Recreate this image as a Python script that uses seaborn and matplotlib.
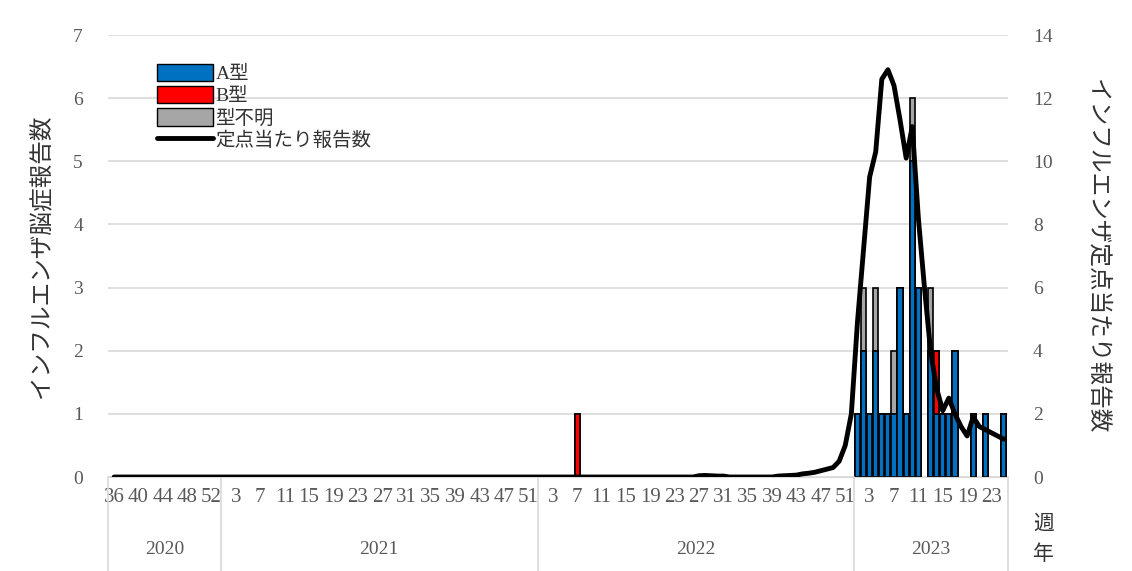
import numpy as np
import pandas as pd
import matplotlib
matplotlib.use("Agg")
import matplotlib.pyplot as plt
import seaborn as sns
from matplotlib.lines import Line2D
from matplotlib.patches import Patch

# weeks shown per year
years = [2020, 2021, 2022, 2023]
first_week = [36, 1, 1, 1]
last_week = [53, 52, 52, 25]

# encephalopathy reports (only weeks with cases)
a_type = {(2023, 1): 1, (2023, 2): 2, (2023, 3): 1, (2023, 4): 2, (2023, 5): 1,
          (2023, 6): 1, (2023, 7): 1, (2023, 8): 3, (2023, 9): 1, (2023, 10): 5,
          (2023, 11): 3, (2023, 13): 2, (2023, 14): 1, (2023, 15): 1, (2023, 16): 1,
          (2023, 17): 2, (2023, 20): 1, (2023, 22): 1, (2023, 25): 1}
b_type = {(2022, 7): 1, (2023, 14): 1}
unknown_type = {(2023, 2): 1, (2023, 4): 1, (2023, 7): 1, (2023, 10): 1, (2023, 13): 1}

# reports per sentinel (right axis)
sentinel_2022 = {27: 0.04, 28: 0.05, 29: 0.04, 30: 0.03, 31: 0.03, 40: 0.03, 41: 0.04,
                 42: 0.05, 43: 0.06, 44: 0.1, 45: 0.12, 46: 0.15, 47: 0.2, 48: 0.25,
                 49: 0.3, 50: 0.5, 51: 1.0, 52: 2.0}
sentinel_2023 = [4.9, 7.2, 9.5, 10.3, 12.6, 12.9, 12.4, 11.3, 10.1, 11.1, 8.2, 6.0,
                 4.0, 2.8, 2.1, 2.5, 2.0, 1.6, 1.3, 1.9, 1.6, 1.5, 1.4, 1.3, 1.2]

rows = []
for y, w0, w1 in zip(years, first_week, last_week):
    for w in range(w0, w1 + 1):
        if y == 2022:
            s = sentinel_2022.get(w, 0.0)
        elif y == 2023:
            s = sentinel_2023[w - 1]
        else:
            s = 0.0
        rows.append(dict(year=y, week=w, A=a_type.get((y, w), 0), B=b_type.get((y, w), 0),
                         U=unknown_type.get((y, w), 0), sentinel=s))
df = pd.DataFrame(rows)
df["pos"] = np.arange(len(df))
df["ab"] = df["A"] + df["B"]
df["total"] = df["ab"] + df["U"]

sns.set_style("white")
plt.rcParams["font.family"] = ["Liberation Serif", "Noto Sans CJK JP"]

fig = plt.figure(figsize=(11.32, 5.71), dpi=100)
ax = fig.add_axes([0.0954, 0.1646, 0.795, 0.7741])

blue, red, grey = "#0070C0", "#FF0000", "#A6A6A6"
for col, c in [("total", grey), ("ab", red), ("A", blue)]:
    d = df[df[col] > 0]
    sns.barplot(data=d, x="pos", y=col, native_scale=True, color=c, saturation=1,
                width=0.85, edgecolor="black", linewidth=1.2, ax=ax)

ax.set_xlim(-1, len(df) - 0.3)
ax.set_ylim(0, 7)
ax.set_yticks(range(8))
ax.yaxis.grid(True, color="#D9D9D9", linewidth=1.2)
ax.set_axisbelow(True)
for s in ["top", "left", "right"]:
    ax.spines[s].set_visible(False)
ax.spines["bottom"].set_color("#D9D9D9")
ax.tick_params(axis="y", colors="#595959", labelsize=14, length=0, pad=18)

ticks = df[((df.year == 2020) & (df.week % 4 == 0) & (df.week < 53)) |
           ((df.year > 2020) & (df.week % 4 == 3))]
ax.set_xticks(ticks["pos"])
ax.set_xticklabels(ticks["week"].astype(str))
ax.tick_params(axis="x", colors="#595959", labelsize=15, length=0, pad=8)
ax.set_xlabel("")
ax.set_ylabel("インフルエンザ脳症報告数", fontsize=17, color="#333333", labelpad=14,
              family=["Noto Sans CJK JP"])

ax2 = ax.twinx()
sns.lineplot(data=df, x="pos", y="sentinel", color="black", linewidth=3.5, ax=ax2)
ax2.set_ylim(0, 14)
ax2.set_yticks(range(0, 15, 2))
for s in ["top", "left", "right", "bottom"]:
    ax2.spines[s].set_visible(False)
ax2.tick_params(axis="y", colors="#595959", labelsize=14, length=0, pad=18)
ax2.set_ylabel("インフルエンザ定点当たり報告数", fontsize=17, color="#333333",
               rotation=-90, labelpad=40, family=["Noto Sans CJK JP"])

# year row under the week labels
bounds = [-1]
for y in years:
    bounds.append(df[df.year == y]["pos"].max() + 0.5)
bounds[-1] = len(df) - 0.3
trans = ax.get_xaxis_transform()
for b in bounds:
    ax.plot([b, b], [0, -0.22], transform=trans, color="#D9D9D9", lw=1.2, clip_on=False)
for y, l, r in zip(years, bounds[:-1], bounds[1:]):
    ax.text((l + r) / 2, -0.165, str(y), transform=trans, ha="center", va="center",
            fontsize=14, color="#595959")
ax.text(len(df) + 5.5, -0.105, "週", transform=trans, ha="center", va="center",
        fontsize=15, color="#333333", family=["Noto Sans CJK JP"])
ax.text(len(df) + 5.5, -0.175, "年", transform=trans, ha="center", va="center",
        fontsize=15, color="#333333", family=["Noto Sans CJK JP"])

handles = [Patch(facecolor=blue, edgecolor="black", label="A型"),
           Patch(facecolor=red, edgecolor="black", label="B型"),
           Patch(facecolor=grey, edgecolor="black", label="型不明"),
           Line2D([0], [0], color="black", lw=3.5, label="定点当たり報告数")]
leg = ax.legend(handles=handles, loc="upper left", bbox_to_anchor=(0.035, 0.975),
                frameon=False, handlelength=2.9, handleheight=1.0, handletextpad=0.1,
                labelspacing=0.15,
                prop={"family": ["Liberation Serif", "Noto Sans CJK JP"], "size": 14})
leg.set_zorder(10)
for t in leg.get_texts():
    t.set_color("#333333")

fig.savefig("out.png", dpi=100)
